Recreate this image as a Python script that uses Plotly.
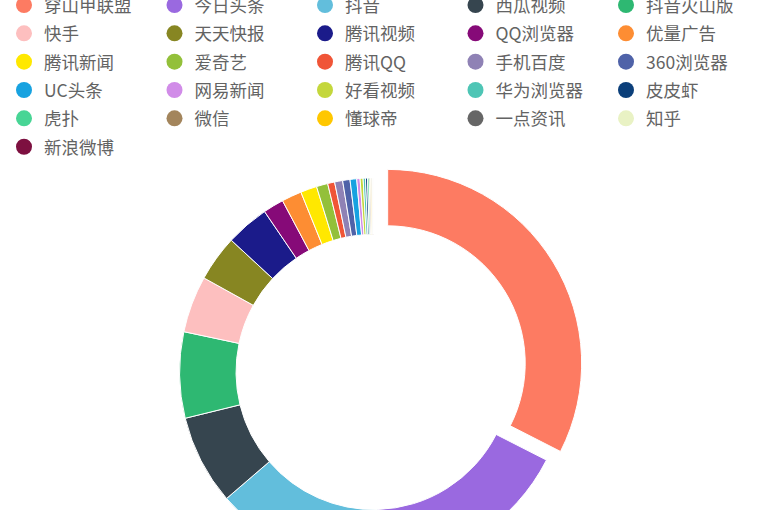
import plotly.graph_objects as go

# ---- data ----
categories = ["穿山甲联盟", "今日头条", "抖音", "西瓜视频", "抖音火山版",
              "快手", "天天快报", "腾讯视频", "QQ浏览器", "优量广告",
              "腾讯新闻", "爱奇艺", "腾讯QQ", "手机百度", "360浏览器",
              "UC头条", "网易新闻", "好看视频", "华为浏览器", "皮皮虾",
              "虎扑", "微信", "懂球帝", "一点资讯", "知乎", "新浪微博"]
values = [1170, 615, 508, 269, 258,
          170, 138, 130, 62, 60,
          49, 34, 21, 24, 22,
          20, 10, 9, 7, 6,
          5, 4, 3.5, 2.5, 2, 1]
colors = ["#fd7b62", "#9a69e0", "#62bedc", "#36454f", "#2eb872",
          "#fdbfbf", "#878622", "#1b1b8a", "#860a78", "#fd8d33",
          "#ffe800", "#93c03a", "#f05537", "#8f82b5", "#4f62a8",
          "#17a2e0", "#d18ce8", "#c4d73c", "#4ec5b5", "#0b3f7a",
          "#48d595", "#a3855c", "#ffc700", "#666666", "#e9f2c4", "#7d1040"]
pulls = [0.085] + [0] * (len(categories) - 1)

W, H = 768, 600
cx, cy, R = 373.6, 372.0, 194.0   # pixel centre/radius of the ring
half = R * (1 + max(pulls))

fig = go.Figure()
fig.add_trace(go.Pie(
    labels=categories, values=values, sort=False, direction="clockwise",
    rotation=0, hole=0.709, pull=pulls, textinfo="none",
    marker=dict(colors=colors, line=dict(color="white", width=1)),
    showlegend=False,
    domain=dict(x=[(cx - half) / W, (cx + half) / W],
                y=[(H - cy - half) / H, (H - cy + half) / H]),
))

# legend entries with round markers
for i, (name, col) in enumerate(zip(categories, colors)):
    fig.add_trace(go.Scatter(
        x=[None], y=[None], mode="markers", name=name,
        marker=dict(color=col, size=16, symbol="circle"),
        legendgroup=f"g{i}", hoverinfo="skip",
    ))

fig.update_layout(
    width=W, height=H,
    margin=dict(l=0, r=0, t=0, b=0, autoexpand=False),
    paper_bgcolor="white", plot_bgcolor="rgba(0,0,0,0)",
    xaxis=dict(visible=False), yaxis=dict(visible=False),
    font=dict(family="Noto Sans CJK SC"),
    legend=dict(
        orientation="h", x=4 / W, xanchor="left", y=1 + 12.9 / H, yanchor="top",
        entrywidth=105.5, entrywidthmode="pixels", tracegroupgap=2.6,
        itemsizing="trace",
        font=dict(family="Noto Sans CJK SC", size=17.5, color="#636363"),
        bgcolor="rgba(0,0,0,0)",
    ),
)

fig.write_html(
    "out.html",
    config={"displayModeBar": False},
    post_script="document.documentElement.style.overflow='hidden';"
                "document.body.style.overflow='hidden';document.body.style.margin='0';",
)
